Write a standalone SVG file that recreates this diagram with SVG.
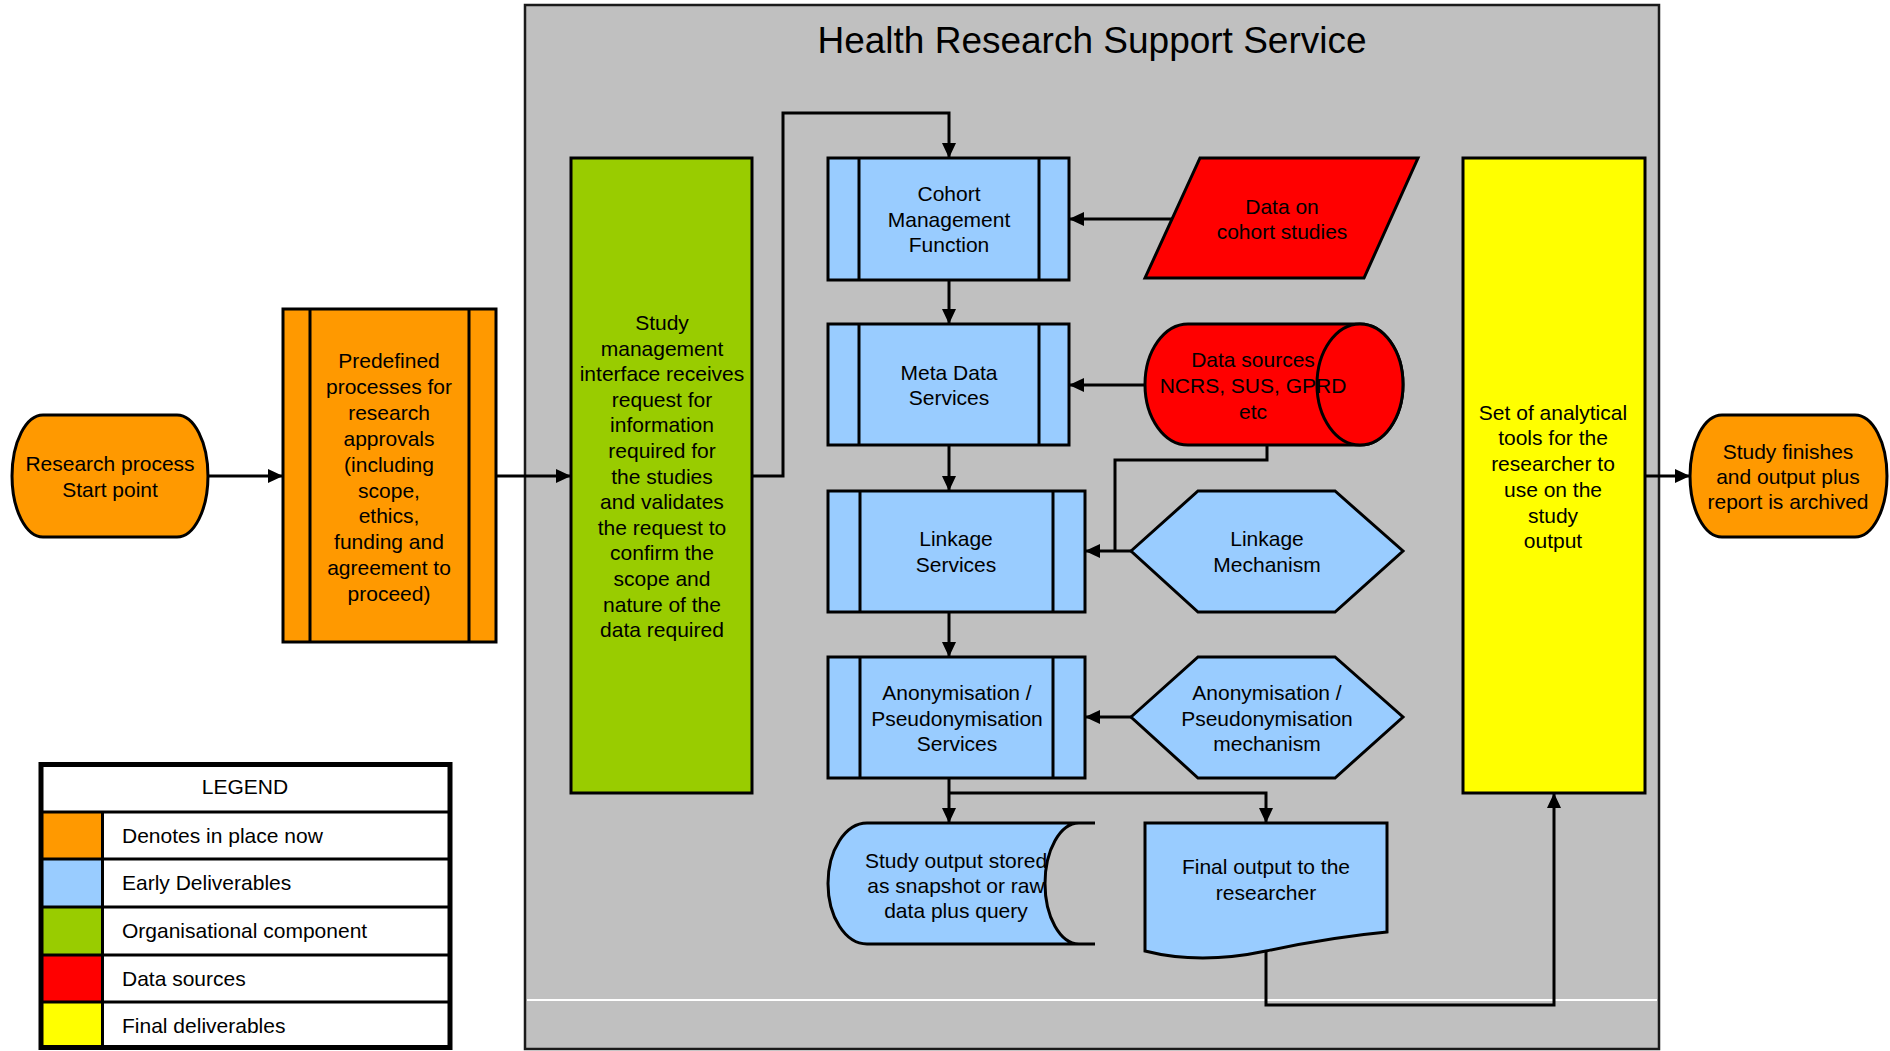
<svg xmlns="http://www.w3.org/2000/svg" width="1890" height="1051" viewBox="0 0 1890 1051">
<defs>
<marker id="arr" markerUnits="userSpaceOnUse" markerWidth="16" markerHeight="14" refX="15" refY="7" orient="auto">
<path d="M0,0 L15,7 L0,14 Z" fill="#000"/>
</marker>
<style>
text{font-family:"Liberation Sans",Arial,sans-serif;font-size:21px;fill:#000;text-anchor:middle}
.nd{stroke:#000;stroke-width:3}
.or{fill:#FF9900}.bl{fill:#99CCFF}.gr{fill:#99CC00}.rd{fill:#FF0000}.ye{fill:#FFFF00}
.cn{fill:none;stroke:#000;stroke-width:3}
.lg{text-anchor:start}
</style>
</defs>
<rect width="1890" height="1051" fill="#fff"/>
<g id="container">
<rect x="525" y="5" width="1134" height="1044" fill="#C0C0C0" stroke="#1a1a1a" stroke-width="2.5"/>
<path d="M527,1000 H1657" stroke="#fff" stroke-width="2"/>
<text x="1092" y="53" style="font-size:37px">Health Research Support Service</text>
</g>
<g id="start">
<path class="nd or" d="M43,415 H177 A31,61 0 0 1 177,537 H43 A31,61 0 0 1 43,415 Z"/>
<text x="110" y="471">Research process</text>
<text x="110" y="497">Start point</text>
</g>
<g id="predefined">
<rect class="nd or" x="283" y="309" width="213" height="333"/>
<path class="nd" d="M310,309 V642 M469,309 V642"/>
<text x="389" y="368">Predefined</text>
<text x="389" y="394">processes for</text>
<text x="389" y="420">research</text>
<text x="389" y="446">approvals</text>
<text x="389" y="472">(including</text>
<text x="389" y="498">scope,</text>
<text x="389" y="523">ethics,</text>
<text x="389" y="549">funding and</text>
<text x="389" y="575">agreement to</text>
<text x="389" y="601">proceed)</text>
</g>
<g id="study-mgmt">
<rect class="nd gr" x="571" y="158" width="181" height="635"/>
<text x="662" y="330">Study</text>
<text x="662" y="356">management</text>
<text x="662" y="381">interface receives</text>
<text x="662" y="407">request for</text>
<text x="662" y="432">information</text>
<text x="662" y="458">required for</text>
<text x="662" y="484">the studies</text>
<text x="662" y="509">and validates</text>
<text x="662" y="535">the request to</text>
<text x="662" y="560">confirm the</text>
<text x="662" y="586">scope and</text>
<text x="662" y="612">nature of the</text>
<text x="662" y="637">data required</text>
</g>
<g id="cohort">
<rect class="nd bl" x="828" y="158" width="241" height="122"/>
<path class="nd" d="M859,158 V280 M1039,158 V280"/>
<text x="949" y="201">Cohort</text>
<text x="949" y="227">Management</text>
<text x="949" y="252">Function</text>
</g>
<g id="meta">
<rect class="nd bl" x="828" y="324" width="241" height="121"/>
<path class="nd" d="M859,324 V445 M1039,324 V445"/>
<text x="949" y="380">Meta Data</text>
<text x="949" y="405">Services</text>
</g>
<g id="linkage">
<rect class="nd bl" x="828" y="491" width="257" height="121"/>
<path class="nd" d="M860,491 V612 M1053,491 V612"/>
<text x="956" y="546">Linkage</text>
<text x="956" y="572">Services</text>
</g>
<g id="anon">
<rect class="nd bl" x="828" y="657" width="257" height="121"/>
<path class="nd" d="M860,657 V778 M1053,657 V778"/>
<text x="957" y="700">Anonymisation /</text>
<text x="957" y="726">Pseudonymisation</text>
<text x="957" y="751">Services</text>
</g>
<g id="cohort-data">
<path class="nd rd" d="M1200,158 H1418 L1364,278 H1145 Z"/>
<text x="1282" y="214">Data on</text>
<text x="1282" y="239">cohort studies</text>
</g>
<g id="data-sources">
<path class="nd rd" d="M1188,324 H1360 A43,60.5 0 0 1 1360,445 H1188 A43,60.5 0 0 1 1188,324 Z"/>
<ellipse class="nd rd" cx="1360" cy="384.5" rx="43" ry="60.5"/>
<text x="1253" y="367">Data sources</text>
<text x="1253" y="393">NCRS, SUS, GPRD</text>
<text x="1253" y="419">etc</text>
</g>
<g id="linkage-mech">
<polygon class="nd bl" points="1131,551 1198,491 1335,491 1403,551 1335,612 1198,612"/>
<text x="1267" y="546">Linkage</text>
<text x="1267" y="572">Mechanism</text>
</g>
<g id="anon-mech">
<polygon class="nd bl" points="1131,717 1198,657 1335,657 1403,717 1335,778 1198,778"/>
<text x="1267" y="700">Anonymisation /</text>
<text x="1267" y="726">Pseudonymisation</text>
<text x="1267" y="751">mechanism</text>
</g>
<g id="stored">
<path class="bl" d="M867,823 H1079 A34,60.5 0 0 0 1079,944 H867 A39,60.5 0 0 1 867,823 Z"/>
<text x="956" y="868">Study output stored</text>
<text x="956" y="893">as snapshot or raw</text>
<text x="956" y="918">data plus query</text>
<path class="nd" fill="none" d="M1095,823 H867 A39,60.5 0 0 0 867,944 H1095 M1079,823 A34,60.5 0 0 0 1079,944"/>
</g>
<g id="final-output">
<path class="nd bl" d="M1145,823 H1387 V932 Q1332,937 1266,951 Q1200,965 1145,951 Z"/>
<text x="1266" y="874">Final output to the</text>
<text x="1266" y="900">researcher</text>
</g>
<g id="tools">
<rect class="nd ye" x="1463" y="158" width="182" height="635"/>
<text x="1553" y="420">Set of analytical</text>
<text x="1553" y="445">tools for the</text>
<text x="1553" y="471">researcher to</text>
<text x="1553" y="497">use on the</text>
<text x="1553" y="523">study</text>
<text x="1553" y="548">output</text>
</g>
<g id="end">
<path class="nd or" d="M1722,415 H1855 A32,61 0 0 1 1855,537 H1722 A32,61 0 0 1 1722,415 Z"/>
<text x="1788" y="459">Study finishes</text>
<text x="1788" y="484">and output plus</text>
<text x="1788" y="509">report is archived</text>
</g>
<g id="connectors">
<path class="cn" marker-end="url(#arr)" d="M208,476 H283"/>
<path class="cn" marker-end="url(#arr)" d="M496,476 H571"/>
<path class="cn" marker-end="url(#arr)" d="M752,476 H783 V113 H949 V158"/>
<path class="cn" marker-end="url(#arr)" d="M949,280 V324"/>
<path class="cn" marker-end="url(#arr)" d="M949,445 V491"/>
<path class="cn" marker-end="url(#arr)" d="M949,612 V657"/>
<path class="cn" marker-end="url(#arr)" d="M949,778 V823"/>
<path class="cn" marker-end="url(#arr)" d="M949,793 H1266 V823"/>
<path class="cn" marker-end="url(#arr)" d="M1173,219 H1069"/>
<path class="cn" marker-end="url(#arr)" d="M1145,385 H1069"/>
<path class="cn" marker-end="url(#arr)" d="M1131,551 H1085"/>
<path class="cn" d="M1267,445 V460 H1115 V551"/>
<path class="cn" marker-end="url(#arr)" d="M1131,717 H1085"/>
<path class="cn" marker-end="url(#arr)" d="M1266,951 V1005 H1554 V793"/>
<path class="cn" marker-end="url(#arr)" d="M1645,476 H1690"/>
</g>
<g id="legend">
<rect x="41" y="764.5" width="409" height="283" fill="#fff"/>
<rect class="or" x="43" y="812" width="59" height="47"/>
<rect class="bl" x="43" y="859" width="59" height="48"/>
<rect class="gr" x="43" y="907" width="59" height="48"/>
<rect class="rd" x="43" y="955" width="59" height="47"/>
<rect class="ye" x="43" y="1002" width="59" height="46"/>
<path fill="none" stroke="#000" stroke-width="3" d="M41,812 H450 M41,859 H450 M41,907 H450 M41,955 H450 M41,1002 H450 M102.5,812 V1048"/>
<rect x="41" y="764.5" width="409" height="283" fill="none" stroke="#000" stroke-width="5"/>
<text x="245" y="794">LEGEND</text>
<text class="lg" x="122" y="843">Denotes in place now</text>
<text class="lg" x="122" y="890">Early Deliverables</text>
<text class="lg" x="122" y="938">Organisational component</text>
<text class="lg" x="122" y="986">Data sources</text>
<text class="lg" x="122" y="1033">Final deliverables</text>
</g>
</svg>
